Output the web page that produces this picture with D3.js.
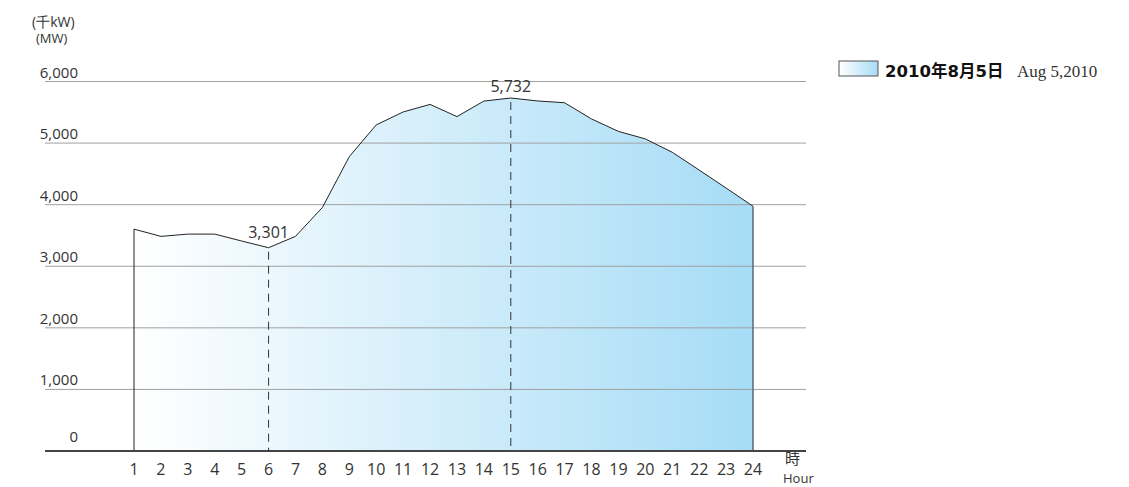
<!DOCTYPE html>
<html>
<head>
<meta charset="utf-8">
<script src="https://cdn.jsdelivr.net/npm/d3@7"></script>
<style>
  body { margin: 0; background: #fff; }
  text { font-family: "Open Sans", "DejaVu Sans", sans-serif; fill: #333; }
</style>
</head>
<body>
<div id="chart"></div>
<script>
// hourly demand, Aug 5 2010 (MW)
var hours = d3.range(1, 25);
var demand = [3603, 3485, 3522, 3522, 3410, 3301, 3485, 3955, 4780, 5295,
              5505, 5628, 5430, 5682, 5732, 5684, 5655, 5392, 5190, 5068,
              4851, 4562, 4270, 3975];
var yTicks = [0, 1000, 2000, 3000, 4000, 5000, 6000];
var peaks = [{hour: 6, label: "3,301"}, {hour: 15, label: "5,732"}];
var legendJa = "2010年8月5日";
var legendEn = "Aug 5,2010";

var width = 1129, height = 487;

var svg = d3.select("#chart").append("svg")
    .attr("width", width)
    .attr("height", height);

var x = d3.scaleLinear().domain([1, 24]).range([134, 753]);
var y = d3.scaleLinear().domain([0, 6000]).range([451, 81.5]);

// gradient fills
var defs = svg.append("defs");
var grad = defs.append("linearGradient")
    .attr("id", "areaGrad")
    .attr("gradientUnits", "userSpaceOnUse")
    .attr("x1", x(1)).attr("x2", x(24))
    .attr("y1", 0).attr("y2", 0);
grad.append("stop").attr("offset", "0%").attr("stop-color", "#ffffff");
grad.append("stop").attr("offset", "100%").attr("stop-color", "#a6dcf6");

var legGrad = defs.append("linearGradient").attr("id", "legGrad");
legGrad.append("stop").attr("offset", "0%").attr("stop-color", "#ffffff");
legGrad.append("stop").attr("offset", "100%").attr("stop-color", "#a6dcf6");

// area
var area = d3.area()
    .x(function(d, i) { return x(hours[i]); })
    .y0(y(0))
    .y1(function(d) { return y(d); });

svg.append("path")
    .datum(demand)
    .attr("d", area)
    .attr("fill", "url(#areaGrad)");

// gridlines
svg.append("g").selectAll("line")
    .data(yTicks.filter(function(d) { return d > 0; }))
    .enter().append("line")
    .attr("x1", 45).attr("x2", 806)
    .attr("y1", function(d) { return y(d); })
    .attr("y2", function(d) { return y(d); })
    .attr("stroke", "#a0a0a0")
    .attr("stroke-width", 1);

// outline
var line = d3.line()
    .x(function(d, i) { return x(hours[i]); })
    .y(function(d) { return y(d); });

svg.append("path")
    .datum(demand)
    .attr("d", line)
    .attr("fill", "none")
    .attr("stroke", "#222")
    .attr("stroke-width", 1);

svg.append("line")
    .attr("x1", x(1)).attr("x2", x(1))
    .attr("y1", y(demand[0])).attr("y2", y(0))
    .attr("stroke", "#222");

svg.append("line")
    .attr("x1", x(24)).attr("x2", x(24))
    .attr("y1", y(demand[23])).attr("y2", y(0))
    .attr("stroke", "#5a6a72")
    .attr("stroke-width", 1.5);

// baseline
svg.append("line")
    .attr("x1", 45).attr("x2", 806)
    .attr("y1", y(0)).attr("y2", y(0))
    .attr("stroke", "#444")
    .attr("stroke-width", 2);

// dashed markers + labels
var labelOffset = {6: 10, 15: 6};
peaks.forEach(function(p) {
    var v = demand[p.hour - 1];
    svg.append("line")
        .attr("x1", x(p.hour)).attr("x2", x(p.hour))
        .attr("y1", y(v) + 4).attr("y2", y(0))
        .attr("stroke", "#333")
        .attr("stroke-dasharray", "8,6");
    svg.append("text")
        .attr("x", x(p.hour))
        .attr("y", y(v) - labelOffset[p.hour])
        .attr("text-anchor", "middle")
        .style("font-size", "16px")
        .text(p.label);
});

// y labels
svg.append("g").selectAll("text")
    .data(yTicks)
    .enter().append("text")
    .attr("x", 78)
    .attr("y", function(d) { return y(d) - (d === 0 ? 9 : 4); })
    .attr("text-anchor", "end")
    .style("font-size", "15px")
    .text(function(d) { return d3.format(",")(d); });

// x labels
svg.append("g").selectAll("text")
    .data(hours)
    .enter().append("text")
    .attr("x", function(d) { return x(d); })
    .attr("y", 475)
    .attr("text-anchor", "middle")
    .style("font-size", "16px")
    .text(function(d) { return d; });

// axis titles
svg.append("text").attr("x", 32).attr("y", 27)
    .style("font-size", "14px").text("(千kW)");
svg.append("text").attr("x", 36).attr("y", 43)
    .style("font-size", "13px").text("(MW)");

svg.append("text").attr("x", 785).attr("y", 464)
    .style("font-family", "'Noto Sans CJK JP', sans-serif")
    .style("font-size", "15px").text("時");
svg.append("text").attr("x", 783).attr("y", 483)
    .style("font-size", "13px").text("Hour");

// legend
svg.append("rect")
    .attr("x", 839).attr("y", 61)
    .attr("width", 39).attr("height", 15)
    .attr("fill", "url(#legGrad)")
    .attr("stroke", "#555")
    .attr("stroke-width", 1);
svg.append("text").attr("x", 885).attr("y", 77)
    .style("font-family", "'DejaVu Sans', 'Noto Sans CJK JP', sans-serif")
    .style("font-weight", "bold")
    .style("font-size", "16.5px")
    .style("fill", "#111")
    .text(legendJa);
svg.append("text").attr("x", 1017).attr("y", 77)
    .style("font-family", "'Liberation Serif', serif")
    .style("font-size", "17px")
    .text(legendEn);
</script>
</body>
</html>
